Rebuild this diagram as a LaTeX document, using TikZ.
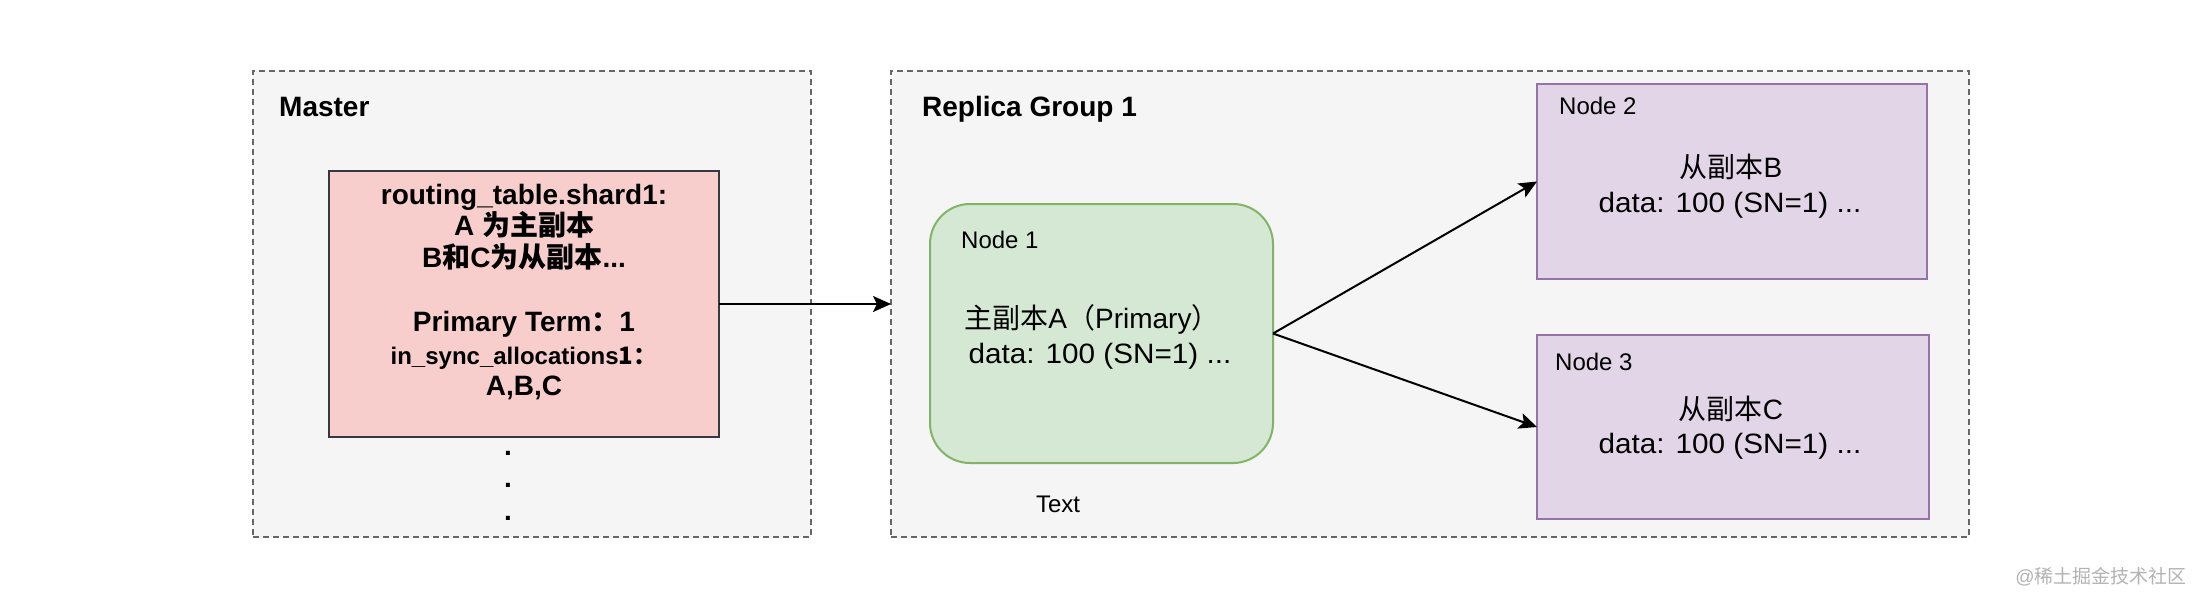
\documentclass[tikz,border=0pt]{standalone}
\usepackage{fontspec}
\setmainfont{Liberation Sans}
\newfontfamily\cjk{Noto Sans CJK SC}
\newfontfamily\widesans[FakeStretch=1.06]{Liberation Sans}
\usetikzlibrary{arrows.meta}
\definecolor{grpfill}{HTML}{F5F5F5}
\definecolor{grpline}{HTML}{666666}
\definecolor{pinkfill}{HTML}{F8CECC}
\definecolor{pinkline}{HTML}{36393D}
\definecolor{greenfill}{HTML}{D5E8D4}
\definecolor{greenline}{HTML}{82B366}
\definecolor{purplefill}{HTML}{E1D5E7}
\definecolor{purpleline}{HTML}{9673A6}
\definecolor{wmark}{HTML}{B3B3B3}
\begin{document}
\begin{tikzpicture}[x=1pt,y=-1pt,
  group/.style={draw=grpline, fill=grpfill, line width=2pt, dash pattern=on 6pt off 4pt, inner sep=0pt, outer sep=0pt},
  box/.style={line width=2pt, inner sep=0pt, outer sep=0pt},
  lbl/.style={inner sep=0pt, anchor=base west, font=\fontsize{24}{28}\selectfont},
  ttl/.style={inner sep=0pt, anchor=base west, font=\bfseries\fontsize{28}{32}\selectfont},
  bt/.style={inner sep=0pt, anchor=base, font=\bfseries\fontsize{28}{32}\selectfont},
  mt/.style={inner sep=0pt, anchor=base, font=\fontsize{28}{32}\selectfont},
  dt/.style={inner sep=0pt, anchor=base, font=\widesans\fontsize{28}{32}\selectfont},
  arr/.style={line width=2pt, -{Stealth[length=18pt,width=16pt,inset=4pt]}}
]
\useasboundingbox (0,0) rectangle (2200,606);
\fill[white] (0,0) rectangle (2200,606);

% groups
\node[group, minimum width=558pt, minimum height=466pt] (master) at (532,304) {};
\node[group, minimum width=1078pt, minimum height=466pt] (replica) at (1430,304) {};
\node[ttl] (mastert) at (279,116) {Master};
\node[ttl] (replicat) at (922,116) {Replica Group 1};

% master table
\node[box, draw=pinkline, fill=pinkfill, minimum width=390pt, minimum height=266pt] (pink) at (524,304) {};
\node[bt] (p1) at (524,204) {routing\_table.shard1:};
\node[bt] (p2) at (524,235) {A {\cjk 为主副本}};
\node[bt] (p3) at (524,267) {B{\cjk 和}C{\cjk 为从副本}...};
\node[bt] (p4) at (524,331) {Primary Term{\cjk ：}1};
\node[bt, font=\bfseries\fontsize{24}{28}\selectfont] (p5) at (524,364) {in\_sync\_allocations{\cjk 1：}};
\node[bt] (p6) at (524,395) {A,B,C};
\node[bt] (d1) at (508,455) {.};
\node[bt] (d2) at (508,487) {.};
\node[bt] (d3) at (508,520) {.};

% node 1
\node[box, draw=greenline, fill=greenfill, rounded corners=40pt, minimum width=343pt, minimum height=259pt] (green) at (1101.5,333.5) {};
\node[lbl] (g0) at (961,248) {Node 1};
\node[mt] (g1) at (1092,328) {{\cjk 主副本}A{\cjk （}Primary{\cjk ）}};
\node[dt] (g2) at (1100,363) {data: 100 (SN=1) ...};
\node[lbl, anchor=base] (txt) at (1058,512) {Text};

% node 2
\node[box, draw=purpleline, fill=purplefill, minimum width=390pt, minimum height=195pt] (n2) at (1732,181.5) {};
\node[lbl] (n2a) at (1559,114) {Node 2};
\node[mt] (n2b) at (1731,177) {{\cjk 从副本}B};
\node[dt] (n2c) at (1730,212) {data: 100 (SN=1) ...};

% node 3
\node[box, draw=purpleline, fill=purplefill, minimum width=392pt, minimum height=184pt] (n3) at (1733,427) {};
\node[lbl] (n3a) at (1555,370) {Node 3};
\node[mt] (n3b) at (1731,419) {{\cjk 从副本}C};
\node[dt] (n3c) at (1730,453) {data: 100 (SN=1) ...};

% arrows
\draw[arr] (pink.east) -- (replica.west);
\draw[arr] (green.east) -- (n2.west);
\draw[arr] (green.east) -- (n3.west);

% watermark
\node[inner sep=0pt, text=wmark, font=\fontsize{19}{23}\selectfont] (wm) at (2101,577) {@{\cjk 稀土掘金技术社区}};
\end{tikzpicture}
\end{document}
